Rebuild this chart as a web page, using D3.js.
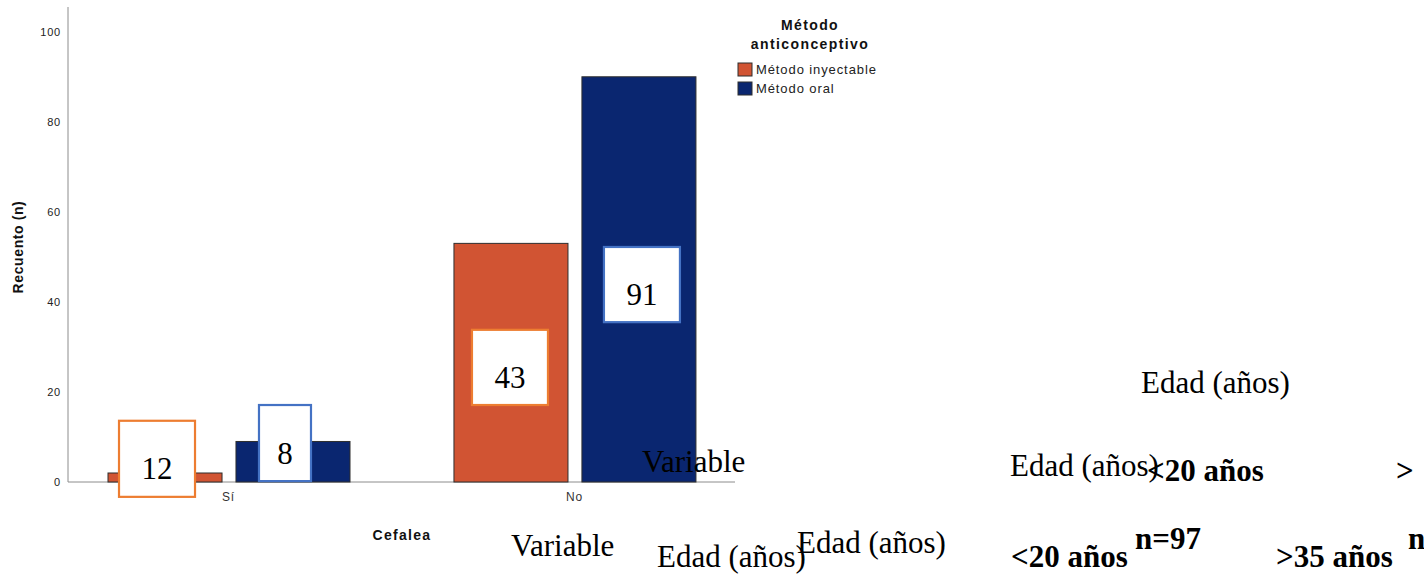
<!DOCTYPE html>
<html>
<head>
<meta charset="utf-8">
<script src="https://cdn.jsdelivr.net/npm/d3@7"></script>
<style>
  body { margin: 0; background: #fff; }
  svg { display: block; }
</style>
</head>
<body>
<div id="chart"></div>
<script>
// data
var categories = ["Sí", "No"];
var series = ["Método inyectable", "Método oral"];
var inyectableValues = [2, 53];
var oralValues = [9, 90];
var yTicks = [0, 20, 40, 60, 80, 100];

// pasted text boxes on top of the bars
var boxLabels = [["12", "8"], ["43", "91"]];
var boxTops = [[13.6, 17.1], [33.8, 52.2]];
var boxBottoms = [[-3.3, 0.2], [17.1, 35.5]];

// loose text lying round the chart (Times)
var strayTexts = ["Edad (años)", "Variable", "Edad (años)", "<20 años", ">",
    "Variable", "Edad (años)", "Edad (años)", "<20 años", "n=97", ">35 años", "n"];
var strayBold = [false, false, false, true, true, false, false, false, true, true, true, true];

var W = 1424, H = 575;
var colors = { "Método inyectable": "#d15433", "Método oral": "#0a2670" };
var boxColors = ["#ed7d31", "#4472c4"];

var svg = d3.select("#chart").append("svg")
    .attr("width", W)
    .attr("height", H);

var plotLeft = 68, plotRight = 735, plotTop = 7, plotBottom = 482;

var x0 = d3.scaleBand()
    .domain(categories)
    .range([plotLeft, plotRight])
    .paddingInner(0.072)
    .paddingOuter(0);

var x1 = d3.scaleBand()
    .domain(series)
    .range([40, 282])
    .paddingInner(0.109);

var y = d3.scaleLinear()
    .domain([0, 105.5])
    .range([plotBottom, plotTop]);

var rows = categories.map(function(c, i) {
    return { cat: c, values: [inyectableValues[i], oralValues[i]] };
});

// axes
var yAxis = svg.append("g")
    .attr("transform", "translate(" + plotLeft + ",0)")
    .call(d3.axisLeft(y).tickValues(yTicks).tickSize(0).tickPadding(7));
yAxis.select(".domain").attr("stroke", "#8c8c8c").attr("d", "M0," + plotTop + "V" + plotBottom);
yAxis.selectAll("text")
    .attr("font-family", "Liberation Sans, Arial, sans-serif")
    .attr("font-size", 11)
    .attr("letter-spacing", 0.8)
    .attr("fill", "#222");

var xAxis = svg.append("g")
    .attr("transform", "translate(0," + plotBottom + ")")
    .call(d3.axisBottom(x0).tickSize(0).tickPadding(10));
xAxis.select(".domain").attr("stroke", "#8c8c8c").attr("d", "M" + plotLeft + ",0H" + plotRight);
xAxis.selectAll("text")
    .attr("font-family", "Liberation Sans, Arial, sans-serif")
    .attr("font-size", 12)
    .attr("letter-spacing", 0.8)
    .attr("fill", "#333");

// bars
var groups = svg.append("g").selectAll("g")
    .data(rows).enter().append("g")
    .attr("transform", function(d) { return "translate(" + x0(d.cat) + ",0)"; });

groups.selectAll("rect")
    .data(function(d) { return d.values.map(function(v, j) { return { s: series[j], v: v }; }); })
    .enter().append("rect")
    .attr("x", function(d) { return x1(d.s); })
    .attr("y", function(d) { return y(d.v); })
    .attr("width", x1.bandwidth())
    .attr("height", function(d) { return plotBottom - y(d.v); })
    .attr("fill", function(d) { return colors[d.s]; })
    .attr("stroke", "#2e2e2e")
    .attr("stroke-width", 1);

// axis titles
svg.append("text")
    .attr("transform", "translate(23,247) rotate(-90)")
    .attr("text-anchor", "middle")
    .attr("font-family", "Liberation Sans, Arial, sans-serif")
    .attr("font-weight", "bold")
    .attr("font-size", 14)
    .attr("letter-spacing", 0.6)
    .attr("fill", "#111")
    .text("Recuento (n)");

svg.append("text")
    .attr("x", 402)
    .attr("y", 540)
    .attr("text-anchor", "middle")
    .attr("font-family", "Liberation Sans, Arial, sans-serif")
    .attr("font-weight", "bold")
    .attr("font-size", 14)
    .attr("letter-spacing", 1.3)
    .attr("fill", "#111")
    .text("Cefalea");

// legend
var legend = svg.append("g");
legend.selectAll("text.title")
    .data(["Método", "anticonceptivo"])
    .enter().append("text")
    .attr("class", "title")
    .attr("x", 810)
    .attr("y", function(d, i) { return 30 + i * 19; })
    .attr("text-anchor", "middle")
    .attr("font-family", "Liberation Sans, Arial, sans-serif")
    .attr("font-weight", "bold")
    .attr("font-size", 14)
    .attr("letter-spacing", 1.4)
    .attr("fill", "#111")
    .text(function(d) { return d; });

var item = legend.selectAll("g.item")
    .data(series)
    .enter().append("g")
    .attr("class", "item")
    .attr("transform", function(d, i) { return "translate(738," + (63 + i * 19) + ")"; });
item.append("rect")
    .attr("width", 14)
    .attr("height", 13)
    .attr("fill", function(d) { return colors[d]; })
    .attr("stroke", "#2e2e2e");
item.append("text")
    .attr("x", 18)
    .attr("y", 11)
    .attr("font-family", "Liberation Sans, Arial, sans-serif")
    .attr("font-size", 13)
    .attr("letter-spacing", 0.9)
    .attr("fill", "#222")
    .text(function(d) { return d; });

// text boxes
var boxDx = [[-8, -8], [-1, 3]];
var boxW = [[76, 52], [76, 76]];
rows.forEach(function(r, i) {
    series.forEach(function(s, j) {
        var cx = x0(r.cat) + x1(s) + x1.bandwidth() / 2 + boxDx[i][j];
        var y1 = y(boxTops[i][j]), y2 = y(boxBottoms[i][j]);
        svg.append("rect")
            .attr("x", cx - boxW[i][j] / 2)
            .attr("y", y1)
            .attr("width", boxW[i][j])
            .attr("height", y2 - y1)
            .attr("fill", "#fff")
            .attr("stroke", boxColors[j])
            .attr("stroke-width", 2.2);
        svg.append("text")
            .attr("x", cx)
            .attr("y", y1 + (y2 - y1) / 2 + 20.5)
            .attr("text-anchor", "middle")
            .attr("font-family", "Liberation Serif, Times New Roman, serif")
            .attr("font-size", 31)
            .attr("fill", "#000")
            .text(boxLabels[i][j]);
    });
});

// stray texts
var strayX = [1141, 642, 1010, 1147, 1396, 511, 657, 797, 1011, 1135, 1276, 1408];
var strayY = [393, 472, 476, 481, 481, 556, 567, 553, 567, 549, 567, 549];
svg.append("g").selectAll("text")
    .data(strayTexts)
    .enter().append("text")
    .attr("x", function(d, i) { return strayX[i]; })
    .attr("y", function(d, i) { return strayY[i]; })
    .attr("font-family", "Liberation Serif, Times New Roman, serif")
    .attr("font-size", 31)
    .attr("font-weight", function(d, i) { return strayBold[i] ? "bold" : "normal"; })
    .attr("fill", "#000")
    .text(function(d) { return d; });
</script>
</body>
</html>
